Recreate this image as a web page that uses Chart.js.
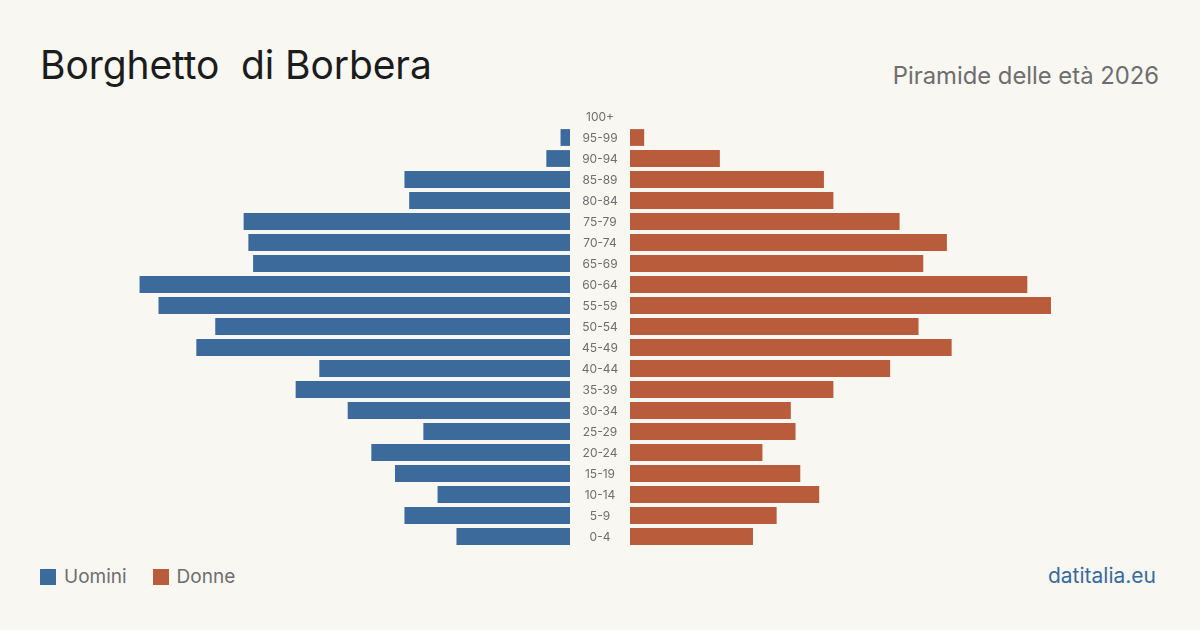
<!DOCTYPE html>
<html lang="it">
<head>
<meta charset="utf-8">
<script src="https://cdn.jsdelivr.net/npm/chart.js@4"></script>
<style>
  html, body { margin: 0; padding: 0; }
  body {
    width: 1200px; height: 630px; position: relative; overflow: hidden;
    background: #f9f7f2; font-family: Inter, "Noto Sans", sans-serif;
  }
  h1 {
    position: absolute; left: 40px; top: 41px; margin: 0;
    font-size: 39px; font-weight: 400; color: #1c1c1c; letter-spacing: -0.1px;
    white-space: pre;
  }
  .sub {
    position: absolute; right: 41px; top: 61px;
    font-size: 23.8px; color: #6e6e6e;
  }
  .legend {
    position: absolute; left: 40px; top: 565px;
    font-size: 19px; color: #6e6e6e; display: flex; align-items: center;
  }
  .legend span.box { width: 16px; height: 16px; display: inline-block; margin-right: 8px; }
  .legend .item { display: flex; align-items: center; margin-right: 26px; }
  .brand {
    position: absolute; right: 44px; top: 563px;
    font-size: 21px; color: #3a6a9c;
  }
  #left { position: absolute; left: 97px; top: 106px; }
  #right { position: absolute; left: 570px; top: 106px; }
</style>
</head>
<body>
<h1>Borghetto  di Borbera</h1>
<div class="sub">Piramide delle età 2026</div>
<div class="legend">
  <div class="item"><span class="box" style="background:#3b6a9b"></span>Uomini</div>
  <div class="item"><span class="box" style="background:#b95c3c"></span>Donne</div>
</div>
<div class="brand">datitalia.eu</div>
<div id="left"><canvas id="chart-left" width="473" height="441"></canvas></div>
<div id="right"><canvas id="chart-right" width="533" height="441"></canvas></div>

<script>
// classi di età, dall'alto verso il basso
var ageGroups = ['100+', '95-99', '90-94', '85-89', '80-84', '75-79', '70-74', '65-69',
  '60-64', '55-59', '50-54', '45-49', '40-44', '35-39', '30-34', '25-29',
  '20-24', '15-19', '10-14', '5-9', '0-4'];
var uomini = [0, 2, 5, 35, 34, 69, 68, 67, 91, 87, 75, 79, 53, 58, 47, 31, 42, 37, 28, 35, 24];
var donne = [0, 3, 19, 41, 43, 57, 67, 62, 84, 89, 61, 68, 55, 43, 34, 35, 28, 36, 40, 31, 26];
var xMax = 100;

var blue = '#3b6a9b';
var orange = '#b95c3c';

Chart.defaults.font.family = 'Inter, "Noto Sans", sans-serif';
Chart.defaults.animation = false;

// etichette delle classi al centro, nello spazio tra le due metà
var centerLabels = {
    id: 'centerLabels',
    afterDraw: function(chart) {
        var ctx = chart.ctx;
        var yScale = chart.scales.y;
        var x = chart.chartArea.left - 30;
        ctx.save();
        ctx.fillStyle = '#6e6e6e';
        ctx.font = '12px Inter, "Noto Sans", sans-serif';
        ctx.textAlign = 'center';
        ctx.textBaseline = 'middle';
        chart.data.labels.forEach(function(label, i) {
            ctx.fillText(label, x, yScale.getPixelForValue(i) + 0.5);
        });
        ctx.restore();
    }
};

function makeOptions(reverse, leftPad) {
    return {
        indexAxis: 'y',
        responsive: false,
        maintainAspectRatio: false,
        layout: { padding: { left: leftPad, right: 0, top: 0, bottom: 0 } },
        plugins: { legend: { display: false }, tooltip: { enabled: false } },
        scales: {
            x: { min: 0, max: xMax, reverse: reverse, display: false },
            y: { display: false }
        }
    };
}

new Chart(document.getElementById('chart-left').getContext('2d'), {
    type: 'bar',
    data: {
        labels: ageGroups,
        datasets: [{
            label: 'Uomini',
            data: uomini,
            backgroundColor: blue,
            categoryPercentage: 1,
            barPercentage: 0.8
        }]
    },
    options: makeOptions(true, 0)
});

new Chart(document.getElementById('chart-right').getContext('2d'), {
    type: 'bar',
    data: {
        labels: ageGroups,
        datasets: [{
            label: 'Donne',
            data: donne,
            backgroundColor: orange,
            categoryPercentage: 1,
            barPercentage: 0.8
        }]
    },
    options: makeOptions(false, 60),
    plugins: [centerLabels]
});
</script>
</body>
</html>
